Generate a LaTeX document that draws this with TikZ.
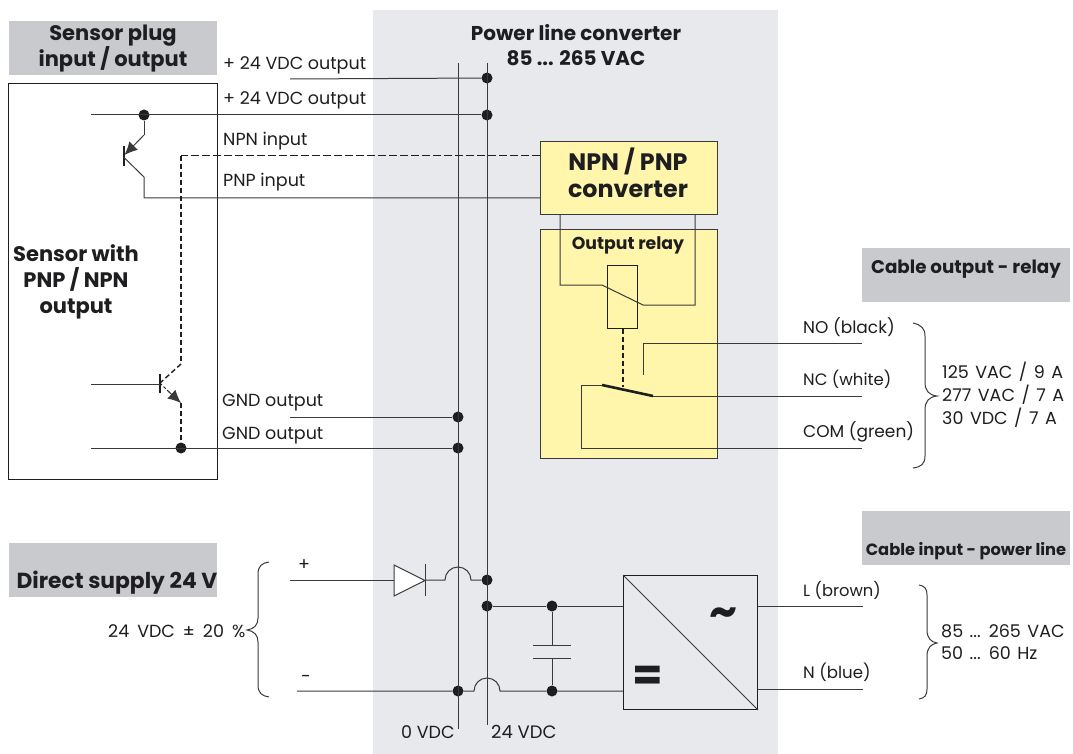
\documentclass[tikz,border=0pt]{standalone}
\usepackage{fontspec}
\setmainfont{Poppins}
\usetikzlibrary{arrows.meta}
\definecolor{panel}{HTML}{E8E9ED}
\definecolor{hdr}{HTML}{C9CACD}
\definecolor{yel}{HTML}{FFF5AB}
\definecolor{ink}{HTML}{1E1E20}
\definecolor{wire}{HTML}{3A3A3C}
\newcommand{\labfont}[1]{\fontsize{#1}{20}\selectfont}
\newcommand{\wordsA}{\spaceskip=6.5pt\relax}
\newcommand{\wordsB}{\spaceskip=8pt\relax}
\tikzset{
  lab/.style={text=ink,font=\labfont{17.5},inner sep=0pt,text height=15pt,text depth=2pt,anchor=west},
  ttl/.style={text=ink,font=\fontsize{21}{26}\selectfont\bfseries,inner sep=0pt,align=center},
  wr/.style={draw=wire,line width=1pt},
  bx/.style={draw=wire,line width=1.2pt,fill=yel},
  dot/.style={circle,fill=ink,draw=none,minimum size=11pt,inner sep=0pt},
  thickdash/.style={draw=ink,line width=1.6pt,dash pattern=on 5pt off 3pt},
  thindash/.style={draw=ink,line width=1pt,dash pattern=on 8pt off 3pt},
  emit/.style={wr,-{Latex[length=13pt,width=12pt]}},
  brc/.style={draw=wire,line width=1pt}
}
\begin{document}
\begin{tikzpicture}[x=1pt,y=-1pt]
\useasboundingbox (0,0) rectangle (1073,754);
% backgrounds
\fill[panel] (373,10) rectangle (778,754);
\fill[hdr] (9,21) rectangle (217,75);
\fill[hdr] (862,248) rectangle (1070,302);
\fill[hdr] (862,511) rectangle (1070,565);
\fill[hdr] (9,543) rectangle (217,597);
\draw[draw=ink,line width=1pt] (8.5,83.5) rectangle (217.5,479);
% boxes
\node[bx,minimum width=176.5pt,minimum height=73pt,inner sep=0pt,anchor=north west] (conv) at (540,141) {};
\node[bx,minimum width=176.5pt,minimum height=229pt,inner sep=0pt,anchor=north west] (relay) at (540,229) {};
\node[draw=ink,line width=1.4pt,minimum width=30pt,minimum height=62.5pt,inner sep=0pt,anchor=north west] (coil) at (607,265) {};
\node[draw=ink,line width=1pt,minimum width=134pt,minimum height=134pt,inner sep=0pt,anchor=north west] (psu) at (623,575) {};
\draw[wr] (psu.north west) -- (psu.south east);
% coordinates
\coordinate (v0t) at (458,63); \coordinate (v0b) at (458,729);
\coordinate (v24t) at (487,63); \coordinate (v24b) at (487,725);
\node[dot] (d24a) at (487,78) {};
\node[dot] (d24b) at (487,115) {};
\node[dot] (dt) at (144,115) {};
\node[dot] (dgnd1) at (458,417) {};
\node[dot] (dgnd2) at (458,448) {};
\node[dot] (dn) at (181,448) {};
\node[dot] (dplus) at (487,580) {};
\node[dot] (dp2) at (487,606) {};
\node[dot] (dc1) at (552,606) {};
\node[dot] (dm) at (458,691) {};
\node[dot] (dc2) at (552,691) {};
% bus lines
\draw[wr] (v0t) -- (v0b);
\draw[wr] (v24t) -- (v24b);
% top wires
\coordinate (w1) at (290,79); \coordinate (w2) at (91,115);
\draw[wr] (w1) -- (d24a);
\draw[wr] (w2) -- (d24b);
% upper transistor
\draw[wr] (dt) -- (144,135);
\draw[emit] (144,135) -- (124.5,155);
\draw[draw=ink,line width=2pt] (123.5,146) -- (123.5,166);
\draw[wr] (123.5,157) -- (144,177) -- (144,198) -- (conv.west |- 144,198);
% NPN dashed
\draw[thindash] (conv.west |- 181,156) -- (181,156);
\draw[thickdash] (181,156) -- (181,364);
\draw[draw=ink,line width=1.4pt,dash pattern=on 5pt off 3pt] (181,364) -- (160,383);
\draw[draw=ink,line width=1.5pt] (160,374) -- (160,393);
\draw[wr] (91,384) -- (160,384);
\draw[draw=ink,line width=1pt,dash pattern=on 3pt off 2pt] (160,383) -- (170,393);
\draw[emit] (168,391) -- (181,403);
\draw[thickdash] (181,403) -- (dn);
% GND wires
\coordinate (g1) at (290,417); \coordinate (g2) at (91,448);
\draw[wr] (g1) -- (dgnd1);
\draw[wr] (g2) -- (dgnd2);
% relay wiring
\draw[wr] (560,214) -- (560,285) -- (602,285) -- (643,305) -- (695,305) -- (695,214);
\draw[thickdash] (coil.south -| 623,327) -- (623,387);
\draw[draw=ink,line width=2.6pt] (602,385) -- (653,396);
\coordinate (no) at (862,343); \coordinate (nc) at (862,396); \coordinate (com) at (862,448);
\draw[wr] (643,375) -- (643,343) -- (no);
\draw[wr] (653,396) -- (nc);
\draw[wr] (602,385) -- (581,385) -- (581,448) -- (com);
% direct supply
\coordinate (pl) at (290,580); \coordinate (mi) at (297,691);
\draw[wr] (pl) -- (394,580);
\draw[wr,fill=white] (394,565) -- (425,580.5) -- (394,596) -- cycle;
\draw[wr] (425,564) -- (425,596);
\draw[wr] (425,580) -- (445,580) arc[start angle=180,end angle=360,radius=13] -- (dplus);
\draw[wr] (mi) -- (dm) -- (474,691) arc[start angle=180,end angle=360,radius=13] -- (dc2) -- (psu.west |- dc2);
\draw[wr] (dp2) -- (dc1) -- (psu.west |- dc1);
\draw[wr] (dc1) -- (552,645);
\draw[wr] (533,645) -- (571,645);
\draw[wr] (533,658) -- (571,658);
\draw[wr] (552,658) -- (dc2);
\coordinate (ll) at (863,606); \coordinate (nn) at (863,689);
\draw[wr] (psu.east |- ll) -- (ll);
\draw[wr] (psu.east |- nn) -- (nn);
% braces
\draw[brc] (913,323) .. controls (921,325) and (925,328) .. (925,336) -- (925,382) .. controls (925,391) and (929,395) .. (937,396) .. controls (929,397) and (925,401) .. (925,410) -- (925,456) .. controls (925,464) and (921,467) .. (913,468);
\draw[brc] (919,585) .. controls (925,586) and (927,589) .. (927,595) -- (927,630) .. controls (927,638) and (931,642) .. (937,643) .. controls (931,644) and (927,648) .. (927,656) -- (927,689) .. controls (927,695) and (925,698) .. (919,699);
\draw[brc] (269,562) .. controls (262,563) and (258,566) .. (258,574) -- (258,618) .. controls (258,625) and (254,629) .. (247,630) .. controls (254,631) and (258,635) .. (258,642) -- (258,685) .. controls (258,693) and (262,696) .. (269,697);
% titles
\node[ttl] (t1) at (113,48.5) {Sensor plug\\input / output};
\node[ttl,font=\fontsize{20}{25}\selectfont\bfseries] (t2) at (576,45.5) {Power line converter\\85 ... 265 VAC};
\node[ttl] (t3) at (76,282) {Sensor with\\PNP / NPN\\output};
\node[ttl,font=\fontsize{23.8}{27}\selectfont\bfseries] (t4) at (628,173) {NPN / PNP\\converter};
\node[ttl,font=\fontsize{17.3}{20}\selectfont\bfseries] (t5) at (628,245) {Output relay};
\node[ttl,font=\fontsize{18.3}{22}\selectfont\bfseries] (t6) at (966,269) {Cable output - relay};
\node[ttl,font=\fontsize{16.3}{19}\selectfont\bfseries] (t7) at (966,551) {Cable input - power line};
\node[ttl,font=\fontsize{21.8}{26}\selectfont\bfseries] (t8) at (117,583) {Direct supply 24 V};
% labels
\node[lab] (a1) at (223,63) {+ 24 VDC output};
\node[lab] (a2) at (223,98) {+ 24 VDC output};
\node[lab] (a3) at (223,139) {NPN input};
\node[lab] (a4) at (223,180) {PNP input};
\node[lab] (a5) at (222,400) {GND output};
\node[lab] (a6) at (222,433) {GND output};
\node[lab,font=\labfont{17}] (b1) at (803,327) {NO (black)};
\node[lab,font=\labfont{16.5}] (b2) at (803,379) {NC (white)};
\node[lab,font=\labfont{17}] (b3) at (803,431) {COM (green)};
\node[lab,font=\labfont{16.3}] (b4) at (803,590) {L (brown)};
\node[lab,font=\labfont{16.6}] (b5) at (803,672) {N (blue)};
\node[lab] (c1) at (942,372) {\wordsA 125 VAC / 9 A};
\node[lab] (c2) at (942,395) {\wordsA 277 VAC / 7 A};
\node[lab] (c3) at (942,418) {\wordsA 30 VDC / 7 A};
\node[lab] (c4) at (941,631) {\wordsA 85 ... 265 VAC};
\node[lab] (c5) at (941,653) {\wordsA 50 ... 60 Hz};
\node[lab] (d1) at (108,631) {\wordsB 24 VDC ± 20 \%};
\node[lab] (d2) at (298,564) {+};
\node[lab] (d3) at (301,676) {-};
\node[lab] (d4) at (401,732) {0 VDC};
\node[lab,font=\labfont{18}] (d5) at (491,732) {24 VDC};
\node[text=ink,inner sep=0pt,font=\fontsize{44}{44}\selectfont\bfseries] (s1) at (723,617) {\char"007E};
\node[text=ink,inner sep=0pt,font=\fontsize{44}{44}\selectfont\bfseries] (s2) at (648,678) {=};
\end{tikzpicture}
\end{document}
